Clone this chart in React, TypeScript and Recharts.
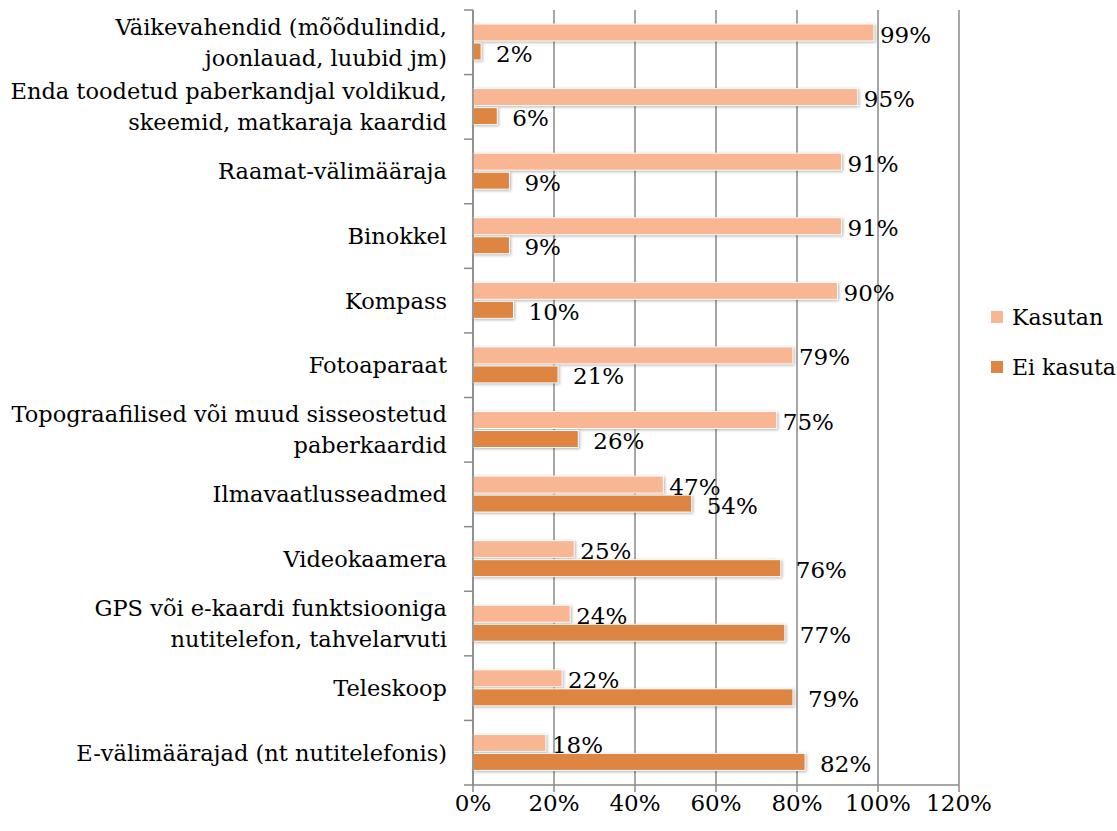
import React from "react";
import {
  Bar,
  BarChart,
  CartesianGrid,
  LabelList,
  XAxis,
  YAxis,
} from "recharts";

const categories = [
  "Väikevahendid (mõõdulindid,\njoonlauad, luubid jm)",
  "Enda toodetud  paberkandjal voldikud,\nskeemid, matkaraja kaardid",
  "Raamat-välimääraja",
  "Binokkel",
  "Kompass",
  "Fotoaparaat",
  "Topograafilised või muud sisseostetud\npaberkaardid",
  "Ilmavaatlusseadmed",
  "Videokaamera",
  "GPS või e-kaardi funktsiooniga\nnutitelefon, tahvelarvuti",
  "Teleskoop",
  "E-välimäärajad (nt nutitelefonis)",
];

const kasutan = [99, 95, 91, 91, 90, 79, 75, 47, 25, 24, 22, 18];
const eiKasuta = [2, 6, 9, 9, 10, 21, 26, 54, 76, 77, 79, 82];

const xTicks = [0, 20, 40, 60, 80, 100, 120];

const data = categories.map((name, i) => ({
  name,
  kasutan: kasutan[i],
  eiKasuta: eiKasuta[i],
}));

const FONT = "'DejaVu Serif', serif";
const GRID = "#8a8a8a";
const LIGHT = "#f9b692";
const DARK = "#dd8541";

const W = 1117;
const H = 831;
const M = { top: 10, right: 158, bottom: 6, left: 0 };
const Y_W = 473;
const X_H = 40;
const PLOT_H = H - M.top - M.bottom - X_H;
const BAND = PLOT_H / categories.length;

function CategoryTick(props: any) {
  const { x, y, payload, index } = props;
  const lines = String(payload.value).split("\n");
  const lh = 31;
  const start = y - ((lines.length - 1) * lh) / 2;
  return (
    <g>
      <line x1={x - 9} x2={x} y1={y - BAND / 2} y2={y - BAND / 2} stroke={GRID} strokeWidth={1.5} />
      {index === categories.length - 1 && (
        <line x1={x - 9} x2={x} y1={y + BAND / 2} y2={y + BAND / 2} stroke={GRID} strokeWidth={1.5} />
      )}
      <text textAnchor="end" fontFamily={FONT} fontSize={22.5} fill="#000">
        {lines.map((l, i) => (
          <tspan key={i} x={x - 26} y={start + i * lh} dominantBaseline="central">
            {l}
          </tspan>
        ))}
      </text>
    </g>
  );
}

function makeLabel(offset: number) {
  return (props: any) => {
    const { x, y, width, height, value } = props;
    return (
      <text
        x={x + width + offset}
        y={y + height / 2 + 2}
        dominantBaseline="central"
        fontFamily={FONT}
        fontSize={23}
        fill="#000"
      >
        {value}%
      </text>
    );
  };
}

function ShadowBar(props: any) {
  const { x, y, width, height, fill } = props;
  return (
    <rect
      x={x}
      y={y}
      width={Math.max(width, 0)}
      height={height}
      fill={fill}
      stroke="#fff"
      strokeWidth={1}
      style={{ filter: "drop-shadow(1px 1px 1.5px rgba(0,0,0,0.3))" }}
    />
  );
}

function LegendBox() {
  const items = [
    { label: "Kasutan", color: LIGHT },
    { label: "Ei kasuta", color: DARK },
  ];
  return (
    <div
      style={{
        position: "absolute",
        left: 991,
        top: 292,
        fontFamily: FONT,
        fontSize: 22,
      }}
    >
      {items.map((it) => (
        <div key={it.label} style={{ display: "flex", alignItems: "center", height: 50 }}>
          <span
            style={{
              width: 12,
              height: 12,
              background: it.color,
              display: "inline-block",
              marginRight: 9,
            }}
          />
          <span>{it.label}</span>
        </div>
      ))}
    </div>
  );
}

export default function App() {
  return (
    <div style={{ position: "absolute", left: 0, top: 0, width: W, height: H, background: "#fff" }}>
      <BarChart
        width={W}
        height={H}
        data={data}
        layout="vertical"
        margin={M}
        barCategoryGap={14}
        barGap={2}
      >
        <CartesianGrid horizontal={false} vertical stroke={GRID} strokeWidth={1.5} />
        <XAxis
          type="number"
          domain={[0, 120]}
          ticks={xTicks}
          tickFormatter={(v) => `${v}%`}
          height={X_H}
          axisLine={{ stroke: GRID, strokeWidth: 1.5 }}
          tickLine={{ stroke: GRID, strokeWidth: 1.5 }}
          tickSize={7}
          tickMargin={3}
          tick={{ fontFamily: FONT, fontSize: 23, fill: "#000" }}
          interval={0}
        />
        <YAxis
          type="category"
          dataKey="name"
          width={Y_W}
          axisLine={{ stroke: GRID, strokeWidth: 1.5 }}
          tickLine={false}
          tickSize={0}
          tickMargin={0}
          tick={<CategoryTick />}
          interval={0}
        />
        <Bar dataKey="kasutan" name="Kasutan" fill={LIGHT} isAnimationActive={false} shape={<ShadowBar />}>
          <LabelList dataKey="kasutan" content={makeLabel(6)} />
        </Bar>
        <Bar dataKey="eiKasuta" name="Ei kasuta" fill={DARK} isAnimationActive={false} shape={<ShadowBar />}>
          <LabelList dataKey="eiKasuta" content={makeLabel(15)} />
        </Bar>
      </BarChart>
      <LegendBox />
    </div>
  );
}
